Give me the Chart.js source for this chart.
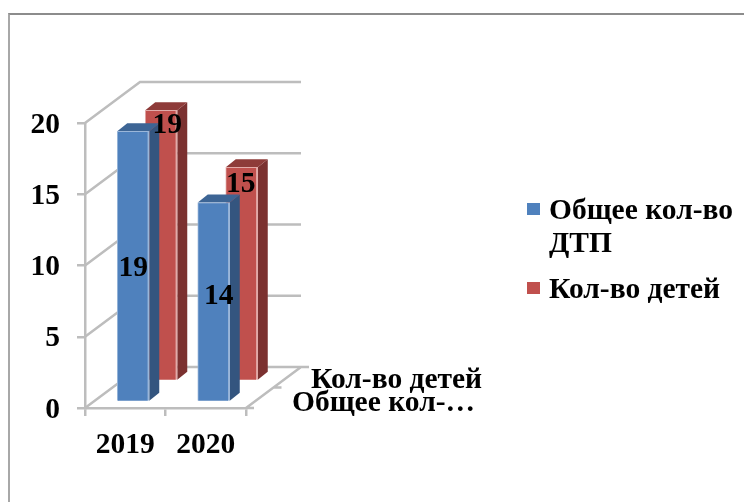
<!DOCTYPE html>
<html>
<head>
<meta charset="utf-8">
<style>
  html, body { margin: 0; padding: 0; background: #fff; }
  #wrap { position: relative; width: 744px; height: 502px; overflow: hidden; }
  #frame { position: absolute; left: 8px; top: 13px; right: -4px; bottom: -4px; border-top: 2px solid #8c8c8c; border-left: 2px solid #a8a8a8; }
  #c { position: absolute; left: 0; top: 0; filter: blur(0.6px); }
  #legend { position: absolute; left: 0; top: 0; font: bold 29.5px "Liberation Serif", serif; color: #000; filter: blur(0.5px); }
  .item { position: absolute; left: 549px; line-height: 33px; white-space: nowrap; }
  .box { position: absolute; left: -22px; top: 10px; width: 13px; height: 12px; }
</style>
</head>
<body>
<div id="wrap">
  <div id="frame"></div>
  <canvas id="c" width="744" height="502"></canvas>
  <div id="legend"></div>
</div>
<script src="https://cdn.jsdelivr.net/npm/chart.js@4/dist/chart.umd.min.js"></script>
<script>
const years = ['2019', '2020'];
const totalAccidents = [19, 14];
const children = [19, 15];
const yTicks = [0, 5, 10, 15, 20];
const depthLabels = ['Общее кол-…', 'Кол-во детей'];
const legendLines = [['Общее кол-во', 'ДТП'], ['Кол-во детей']];

const FONT = 'bold 29.5px "Liberation Serif", serif';
const GRAY = '#bdbdbd';
// depth of the whole 3d box and of one bar
const BOX_DX = 55, BOX_DY = 41;
const BAR_DX = 10, BAR_DY = 8;

// the value labels sit a little off the bar centre in the original
const labelNudge = [
  [[0, 2], [5, -5]],
  [[6, -120], [-1, -89]]
];

const box3d = {
  id: 'box3d',
  afterDatasetsUpdate(chart) {
    // push every series back along the depth axis
    chart.data.datasets.forEach((ds, i) => {
      chart.getDatasetMeta(i).data.forEach(bar => {
        bar.x += ds.shiftX;
        bar.y -= ds.shiftY;
        bar.base -= ds.shiftY;
      });
    });
  },
  beforeDatasetsDraw(chart) {
    const { ctx, scales: { x, y } } = chart;
    const left = x.left, right = x.right, floor = y.bottom;
    ctx.save();
    ctx.strokeStyle = GRAY;
    ctx.lineWidth = 2.5;
    yTicks.forEach(t => {
      const py = y.getPixelForValue(t);
      ctx.beginPath();
      ctx.moveTo(left, py);
      ctx.lineTo(left + BOX_DX, py - BOX_DY);
      ctx.lineTo(right + BOX_DX, py - BOX_DY);
      ctx.stroke();
    });
    // right edge of the floor and its ticks
    ctx.beginPath();
    ctx.moveTo(right, floor);
    ctx.lineTo(right + BOX_DX, floor - BOX_DY);
    ctx.moveTo(right, floor);
    ctx.lineTo(right + 8, floor);
    ctx.moveTo(right + BOX_DX / 2, floor - BOX_DY / 2);
    ctx.lineTo(right + BOX_DX / 2 + 8, floor - BOX_DY / 2);
    ctx.moveTo(right + BOX_DX, floor - BOX_DY);
    ctx.lineTo(right + BOX_DX + 8, floor - BOX_DY);
    ctx.stroke();
    ctx.restore();
  },
  beforeDatasetDraw(chart, args) {
    const { ctx } = chart;
    const ds = chart.data.datasets[args.index];
    ctx.save();
    args.meta.data.forEach(bar => {
      const l = bar.x - bar.width / 2, r = bar.x + bar.width / 2;
      // side face
      ctx.fillStyle = ds.sideColor;
      ctx.beginPath();
      ctx.moveTo(r, bar.y);
      ctx.lineTo(r + BAR_DX, bar.y - BAR_DY);
      ctx.lineTo(r + BAR_DX, bar.base - BAR_DY);
      ctx.lineTo(r, bar.base);
      ctx.closePath();
      ctx.fill();
      // top face
      ctx.fillStyle = ds.topColor;
      ctx.beginPath();
      ctx.moveTo(l, bar.y);
      ctx.lineTo(l + BAR_DX, bar.y - BAR_DY);
      ctx.lineTo(r + BAR_DX, bar.y - BAR_DY);
      ctx.lineTo(r, bar.y);
      ctx.closePath();
      ctx.fill();
    });
    ctx.restore();
  },
  afterDatasetsDraw(chart) {
    const { ctx, scales: { x, y } } = chart;
    ctx.save();
    ctx.font = FONT;
    ctx.fillStyle = '#000';
    ctx.textAlign = 'center';
    ctx.textBaseline = 'middle';
    chart.data.datasets.forEach((ds, i) => {
      chart.getDatasetMeta(i).data.forEach((bar, j) => {
        const n = labelNudge[i][j];
        ctx.fillText(ds.data[j], bar.x + n[0], (bar.y + bar.base) / 2 + n[1]);
      });
    });
    // series names along the depth axis
    ctx.textAlign = 'left';
    ctx.textBaseline = 'alphabetic';
    ctx.fillText(depthLabels[1], x.right + 65, y.bottom - 20);
    ctx.fillText(depthLabels[0], x.right + 46, y.bottom + 3);
    ctx.restore();
  }
};

new Chart(document.getElementById('c'), {
  type: 'bar',
  data: {
    labels: years,
    datasets: [
      {
        label: 'Общее кол-во ДТП',
        data: totalAccidents,
        backgroundColor: '#4f81bd',
        borderColor: '#9ab6d9',
        borderWidth: { top: 1, right: 2, left: 1, bottom: 0 },
        sideColor: '#34557f',
        topColor: '#3d6595',
        shiftX: 8,
        shiftY: 6
      },
      {
        label: 'Кол-во детей',
        data: children,
        backgroundColor: '#c0504d',
        borderColor: '#e2aaa8',
        borderWidth: { top: 1, right: 2, left: 1, bottom: 0 },
        sideColor: '#7b3130',
        topColor: '#8e3b39',
        shiftX: 36,
        shiftY: 27
      }
    ]
  },
  options: {
    responsive: false,
    animation: false,
    events: [],
    layout: { padding: { top: 123, right: 498 } },
    clip: false,
    datasets: { bar: { grouped: false, barThickness: 32 } },
    plugins: { legend: { display: false }, tooltip: { enabled: false } },
    scales: {
      x: {
        afterFit(scale) { scale.height = 94; },
        grid: { drawOnChartArea: false, tickLength: 8, color: GRAY, lineWidth: 2.5 },
        border: { color: GRAY, width: 2.5 },
        ticks: { color: '#000', font: { family: 'Liberation Serif', size: 29.5, weight: 'bold' }, padding: 12, maxRotation: 0, autoSkip: false }
      },
      y: {
        min: 0,
        max: 20,
        afterFit(scale) { scale.width = 85; },
        afterBuildTicks(scale) { scale.ticks = yTicks.map(v => ({ value: v })); },
        grid: { drawOnChartArea: false, tickLength: 8, color: GRAY, lineWidth: 2.5 },
        border: { color: GRAY, width: 2.5 },
        ticks: { color: '#000', font: { family: 'Liberation Serif', size: 29.5, weight: 'bold' }, padding: 17, labelOffset: 2 }
      }
    }
  },
  plugins: [box3d]
});

// legend is laid out by hand because the first entry wraps
const legendTop = [193, 272];
const legendColors = ['#4f81bd', '#c0504d'];
const legendEl = document.getElementById('legend');
legendLines.forEach((lines, i) => {
  const item = document.createElement('div');
  item.className = 'item';
  item.style.top = legendTop[i] + 'px';
  item.innerHTML = lines.join('<br>') + '<span class="box" style="background:' + legendColors[i] + '"></span>';
  legendEl.appendChild(item);
});
</script>
</body>
</html>
